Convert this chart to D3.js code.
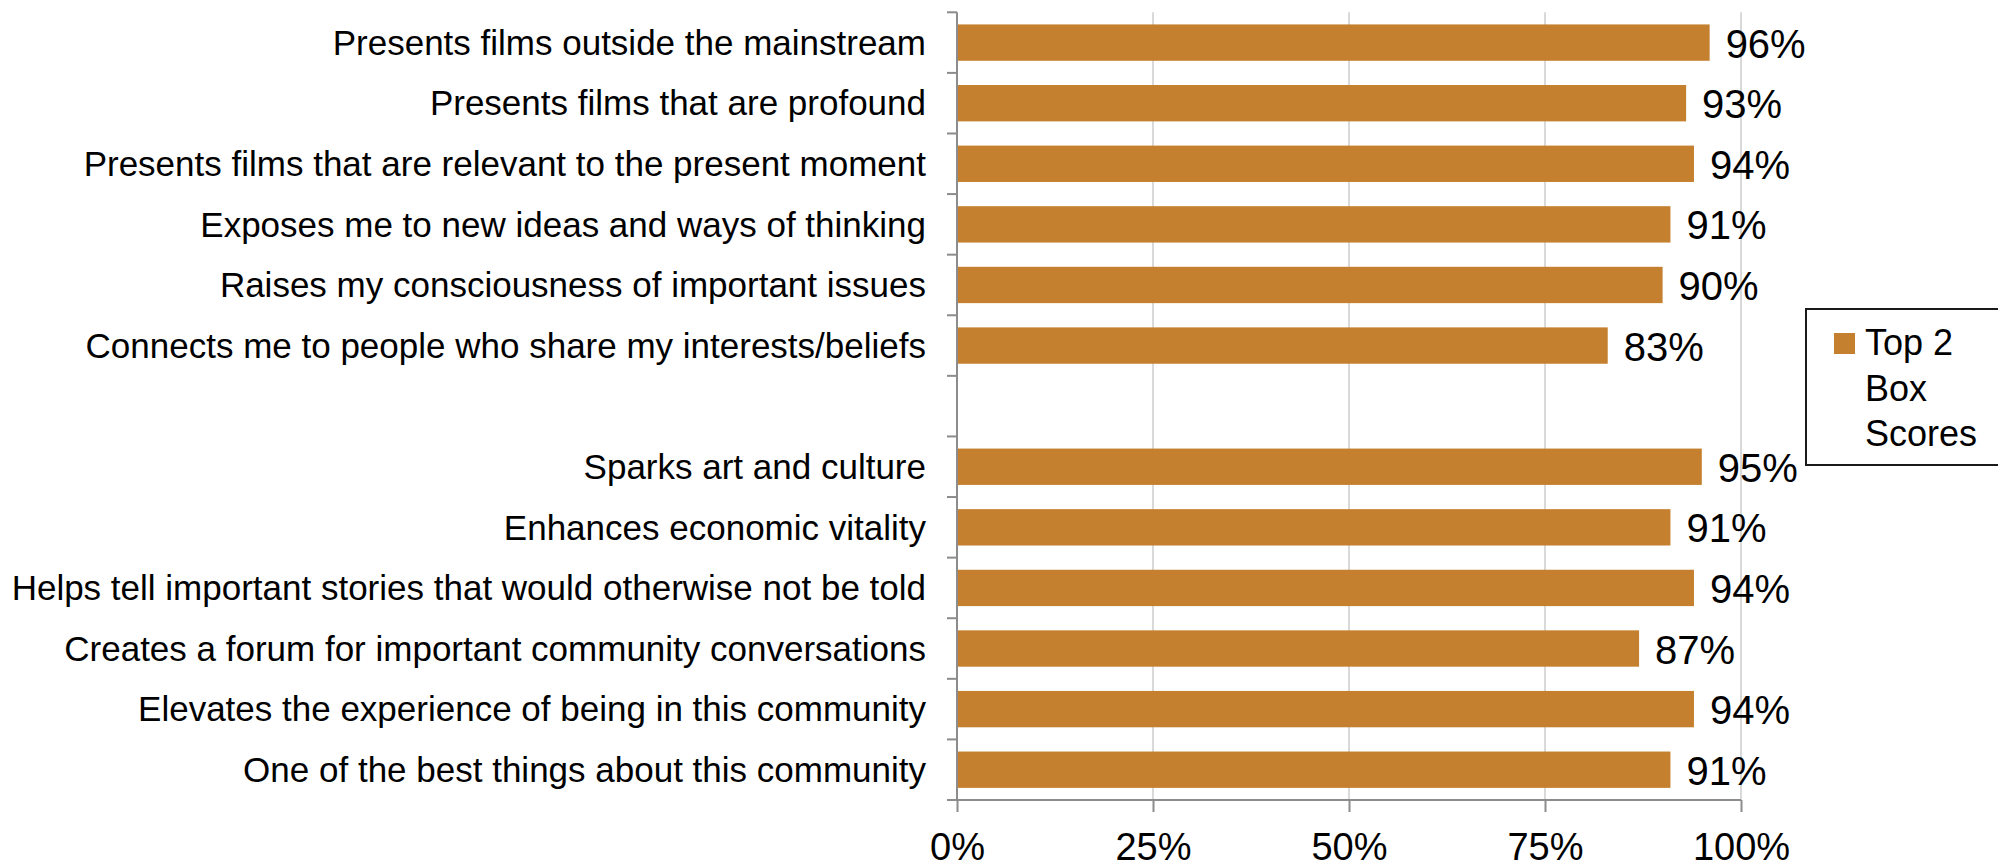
<!DOCTYPE html>
<html>
<head>
<meta charset="utf-8">
<script src="https://cdn.jsdelivr.net/npm/d3@7/dist/d3.min.js"></script>
<style>
  html, body { margin: 0; padding: 0; background: #ffffff; }
  svg { display: block; }
  text { font-family: "Liberation Sans", Arial, sans-serif; fill: #000; }
</style>
</head>
<body>
<svg id="chart" width="1998" height="868"></svg>
<script>
// Statements about the film program (first group)
const filmItems = [
  "Presents films outside the mainstream",
  "Presents films that are profound",
  "Presents films that are relevant to the present moment",
  "Exposes me to new ideas and ways of thinking",
  "Raises my consciousness of important issues",
  "Connects me to people who share my interests/beliefs"
];
const filmScores = [0.96, 0.93, 0.94, 0.91, 0.90, 0.83];

// Statements about the community (second group)
const communityItems = [
  "Sparks art and culture",
  "Enhances economic vitality",
  "Helps tell important stories that would otherwise not be told",
  "Creates a forum for important community conversations",
  "Elevates the experience of being in this community",
  "One of the best things about this community"
];
const communityScores = [0.95, 0.91, 0.94, 0.87, 0.94, 0.91];

const xTickValues = [0, 0.25, 0.5, 0.75, 1];
const seriesName = ["Top 2", "Box", "Scores"];

const barColor = "#c4802f";
const axisColor = "#8c8c8c";
const gridColor = "#d9d9d9";

// One empty slot separates the two groups
const GAP = "__gap__";
const slots = [...filmItems, GAP, ...communityItems];
const rows = [
  ...filmItems.map((c, i) => ({ cat: c, v: filmScores[i] })),
  ...communityItems.map((c, i) => ({ cat: c, v: communityScores[i] }))
];

const svg = d3.select("#chart");

const x = d3.scaleLinear().domain([0, 1]).range([957, 1741]);
const y = d3.scaleBand()
  .domain(slots)
  .range([12.3, 800])
  .paddingInner(0.4)
  .paddingOuter(0.2);

const plotTop = y.range()[0], plotBottom = y.range()[1];
const step = y.step();

// Vertical gridlines
svg.append("g")
  .selectAll("line")
  .data(xTickValues.filter(d => d > 0))
  .join("line")
  .attr("x1", d => x(d)).attr("x2", d => x(d))
  .attr("y1", plotTop).attr("y2", plotBottom)
  .attr("stroke", gridColor)
  .attr("stroke-width", 2);

// Bars
svg.append("g")
  .selectAll("rect")
  .data(rows)
  .join("rect")
  .attr("x", x(0))
  .attr("y", d => y(d.cat))
  .attr("width", d => x(d.v) - x(0))
  .attr("height", y.bandwidth())
  .attr("fill", barColor);

// Value labels
svg.append("g")
  .selectAll("text")
  .data(rows)
  .join("text")
  .attr("x", d => x(d.v) + 16)
  .attr("y", d => y(d.cat) + y.bandwidth() / 2 + 15)
  .attr("font-size", 40)
  .text(d => d3.format(".0%")(d.v));

// Category axis: line, boundary ticks and labels
const yAxis = svg.append("g");
yAxis.append("line")
  .attr("x1", x(0)).attr("x2", x(0))
  .attr("y1", plotTop).attr("y2", plotBottom)
  .attr("stroke", axisColor).attr("stroke-width", 2);
yAxis.selectAll("line.tick")
  .data(d3.range(slots.length + 1))
  .join("line")
  .attr("class", "tick")
  .attr("x1", x(0) - 10).attr("x2", x(0))
  .attr("y1", i => plotTop + i * step).attr("y2", i => plotTop + i * step)
  .attr("stroke", axisColor).attr("stroke-width", 2);
yAxis.selectAll("text")
  .data(slots.filter(s => s !== GAP))
  .join("text")
  .attr("x", x(0) - 31)
  .attr("y", d => y(d) + y.bandwidth() / 2)
  .attr("dy", "0.35em")
  .attr("text-anchor", "end")
  .attr("font-size", 35)
  .text(d => d);

// Value axis along the bottom
const xAxis = svg.append("g").attr("transform", `translate(0,${plotBottom})`);
xAxis.call(
  d3.axisBottom(x)
    .tickValues(xTickValues)
    .tickFormat(d3.format(".0%"))
    .tickSize(12)
    .tickSizeOuter(0)
);
xAxis.select(".domain").remove();
xAxis.append("line")
  .attr("x1", x(0) - 10).attr("x2", x(1))
  .attr("y1", 0).attr("y2", 0)
  .attr("stroke", axisColor).attr("stroke-width", 2);
xAxis.selectAll(".tick line").attr("stroke", axisColor).attr("stroke-width", 2);
xAxis.selectAll(".tick text")
  .attr("font-family", "Liberation Sans, Arial, sans-serif")
  .attr("font-size", 38)
  .attr("fill", "#000")
  .attr("y", 0)
  .attr("dy", 60);

// Legend
const legend = svg.append("g");
legend.append("rect")
  .attr("x", 1806).attr("y", 309)
  .attr("width", 210).attr("height", 156)
  .attr("fill", "#fff")
  .attr("stroke", "#1a1a1a").attr("stroke-width", 2);
legend.append("rect")
  .attr("x", 1834).attr("y", 333)
  .attr("width", 21).attr("height", 21)
  .attr("fill", barColor);
legend.selectAll("text.lg")
  .data(seriesName)
  .join("text")
  .attr("class", "lg")
  .attr("x", 1865)
  .attr("y", (d, i) => 355 + i * 45.5)
  .attr("font-size", 36)
  .text(d => d);
</script>
</body>
</html>
